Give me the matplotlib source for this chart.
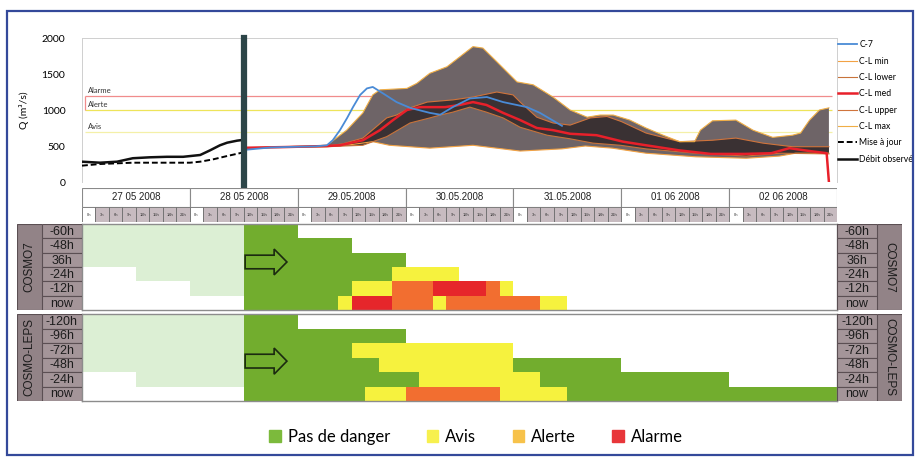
import numpy as np
import matplotlib
matplotlib.use("Agg")
import matplotlib.pyplot as plt
from matplotlib.patches import Rectangle, FancyArrow, Patch

plt.rcParams["font.family"] = ["Lato", "DejaVu Sans"]

# ---- discharge (hours since 27.05.2008 0h, m3/s) ----
OBS_H = [0, 4, 7.8, 11.3, 15.1, 18.9, 22.5, 26.3, 28.5, 30.7, 32.3, 34.5, 35.6]
OBS_Q = [282, 268, 282, 330, 343, 350, 350, 375, 440, 510, 546, 574, 583]

MAJ_H = [0, 4, 11.3, 18.9, 24, 26.3, 29.2, 32.3, 35.6]
MAJ_Q = [227, 250, 268, 268, 268, 282, 315, 361, 407]

C7_H = [36, 42, 48, 52, 54.5, 55.8, 57.4, 59, 60.3, 61.9, 63.4, 64.7, 67, 70, 73,
        77.4, 79.7, 82.5, 86.3, 90.1, 93.7, 99, 101.9, 106.8]
C7_Q = [445, 480, 490, 495, 510, 580, 720, 890, 1040, 1210, 1300, 1320, 1230, 1110, 1030,
        960, 935, 1040, 1160, 1180, 1110, 1040, 960, 780]

MED_H = [36, 45, 54.5, 57.4, 62.5, 66.3, 69.2, 72.3, 75.2, 80.8, 84, 87, 90, 93.7, 97.5,
         101.2, 104.8, 108.6, 114.5, 120.4, 125.5, 132.8, 139.9, 147.4, 153.4, 157.4,
         161.9, 165.7, 166.2]
MED_Q = [475, 485, 500, 510, 580, 720, 860, 1000, 1040, 1040, 1070, 1110, 1070, 960, 860,
         750, 720, 670, 650, 560, 510, 440, 390, 390, 400, 470, 430, 400, 0]

MAX_H = [36, 45, 50, 54.5, 58.9, 62.5, 64.7, 66.3, 72.3, 74.5, 77.4, 81.2, 87, 89.2, 92.3,
         96.8, 100.4, 104.8, 108.6, 112.4, 115.3, 118.2, 121.9, 125.5, 129.3, 133, 136.3,
         137.6, 140.3, 145.5, 149.3, 153.7, 158.1, 159.9, 161.9, 164.1, 166.2]
MAX_Q = [475, 490, 500, 510, 720, 960, 1210, 1280, 1300, 1370, 1510, 1600, 1880, 1860, 1670,
         1390, 1350, 1180, 1000, 900, 930, 930, 860, 750, 650, 560, 560,
         720, 850, 860, 720, 620, 650, 680, 860, 1000, 1030]

MIN_H = [36, 45, 54.5, 60, 64.7, 68.4, 77.4, 87, 97.5, 106.8, 112, 118, 125.5, 136.6,
         147.8, 155.2, 158.8, 166.2]
MIN_Q = [475, 480, 490, 520, 560, 510, 470, 510, 430, 460, 500, 470, 400, 350,
         330, 360, 400, 400]

UP_H = [36, 54.5, 58, 62.5, 67.8, 70, 73, 76.8, 82.5, 87, 92.3, 95.9, 97.5, 101.2, 104.8,
        108.6, 113.1, 116.8, 120, 125.5, 133, 140.3, 145.5, 151.5, 158.1, 166.2]
UP_Q = [475, 500, 530, 610, 890, 930, 1030, 1110, 1140, 1180, 1250, 1210, 1110, 900, 820,
        790, 890, 910, 840, 680, 560, 580, 610, 540, 490, 490]

LO_H = [36, 54.5, 62.5, 67.8, 73, 77.4, 79.7, 82.5, 86.3, 90, 93.7, 97.5, 103.5, 108.6,
        113.7, 119.8, 125.5, 136.6, 147.8, 155.2, 166.2]
LO_Q = [475, 490, 510, 630, 820, 890, 930, 970, 1040, 970, 890, 760, 650, 600,
        540, 510, 460, 400, 360, 400, 390]

THRESH_Q = [1200, 1000, 700]
THRESH_NAMES = ["Alarme", "Alerte", "Avis"]
NOW_H = 36

# ---- warning tables (3h slots from 27.05 0h) ----
DATES = ["27 05 2008", "28 05 2008", "29.05.2008", "30.05.2008", "31.05.2008",
         "01 06 2008", "02 06 2008"]
HOURS = ["0h", "3h", "6h", "9h", "12h", "15h", "18h", "21h"]

COSMO7_LABELS = ["-60h", "-48h", "36h", "-24h", "-12h", "now"]
COSMO7_SEGS = [
    [(0, 12, "p"), (12, 16, "g")],
    [(0, 12, "p"), (12, 20, "g")],
    [(0, 12, "p"), (12, 24, "g")],
    [(4, 12, "p"), (12, 23, "g"), (23, 28, "y")],
    [(8, 12, "p"), (12, 20, "g"), (20, 23, "y"), (23, 26, "o"), (26, 30, "r"),
     (30, 31, "o"), (31, 32, "y")],
    [(12, 19, "g"), (19, 20, "y"), (20, 23, "r"), (23, 26, "o"), (26, 27, "y"),
     (27, 34, "o"), (34, 36, "y")],
]

LEPS_LABELS = ["-120h", "-96h", "-72h", "-48h", "-24h", "now"]
LEPS_SEGS = [
    [(0, 12, "p"), (12, 16, "g")],
    [(0, 12, "p"), (12, 24, "g")],
    [(0, 12, "p"), (12, 20, "g"), (20, 32, "y")],
    [(0, 12, "p"), (12, 22, "g"), (22, 32, "y"), (32, 40, "g")],
    [(4, 12, "p"), (12, 25, "g"), (25, 34, "y"), (34, 48, "g")],
    [(12, 21, "g"), (21, 24, "y"), (24, 31, "o"), (31, 36, "y"), (36, 56, "g")],
]

LEVEL_COLORS = {"p": "#dcefd4", "g": "#72ad2e", "y": "#f6f23e", "o": "#f26e30", "r": "#e6262b"}
LEGEND_NAMES = ["Pas de danger", "Avis", "Alerte", "Alarme"]
LEGEND_COLORS = ["#7cba3c", "#f7f04e", "#f7c24a", "#e8363a"]

W, H = 916, 459
fig = plt.figure(figsize=(W / 100, H / 100), dpi=100)


def rect(x0, y0, x1, y1):
    return [x0 / W, 1 - y1 / H, (x1 - x0) / W, (y1 - y0) / H]


fig.patches.append(Rectangle((7 / W, 1 - 455 / H), 906 / W, 444 / H, transform=fig.transFigure,
                             fill=False, ec="#34499a", lw=1.6))

# ---- hydrograph ----
ax = fig.add_axes(rect(82, 38, 837, 182))
ax.set_xlim(0, 168)
ax.set_ylim(0, 2000)
ax.set_xticks([])
ax.set_yticks([0, 500, 1000, 1500, 2000])
ax.tick_params(axis="y", length=0, pad=12, labelsize=7.5)
for s in ["left", "top", "right"]:
    ax.spines[s].set_color("#cfcfcf")
    ax.spines[s].set_linewidth(0.7)
ax.spines["bottom"].set_visible(False)
ax.set_ylabel("Q (m³/s)", fontsize=7.5, labelpad=9)

thr_cols = ["#f08c8c", "#eee45a", "#f4f0a8"]
for q, name, c in zip(THRESH_Q, THRESH_NAMES, thr_cols):
    ax.hlines(q, 0.6, 166.8, color=c, lw=0.9)
    ax.text(1.3, q + 25, name, fontsize=5.5, va="bottom", color="#333333")
ax.vlines(0.6, THRESH_Q[1], THRESH_Q[0], color=thr_cols[0], lw=0.9)

ax.fill(np.r_[MAX_H, MIN_H[::-1]], np.r_[MAX_Q, MIN_Q[::-1]], fc="#6e6467", ec="none", zorder=2)
ax.fill(np.r_[UP_H, LO_H[::-1]], np.r_[UP_Q, LO_Q[::-1]], fc="#3a3133", ec="none", zorder=3)

l_c7, = ax.plot(C7_H, C7_Q, color="#4a8bd6", lw=1.3, zorder=6)
l_min, = ax.plot(MIN_H, MIN_Q, color="#f2a244", lw=0.8, zorder=4)
l_lo, = ax.plot(LO_H, LO_Q, color="#c8733a", lw=0.8, zorder=4)
l_med, = ax.plot(MED_H, MED_Q, color="#e8202a", lw=1.8, zorder=5)
l_up, = ax.plot(UP_H, UP_Q, color="#d0743c", lw=0.8, zorder=4)
l_max, = ax.plot(MAX_H, MAX_Q, color="#f0ae46", lw=0.8, zorder=4)
l_maj, = ax.plot(MAJ_H, MAJ_Q, color="black", lw=1.4, ls=(0, (3, 1.5)), zorder=5)
l_obs, = ax.plot(OBS_H, OBS_Q, color="#111111", lw=1.8, zorder=5)

ax.axvline(NOW_H, ymin=-0.045, ymax=1, color="#2c4548", lw=4.5, clip_on=False, zorder=7)

ax.legend([l_c7, l_min, l_lo, l_med, l_up, l_max, l_maj, l_obs],
          ["C-7", "C-L min", "C-L lower", "C-L med", "C-L upper", "C-L max",
           "Mise à jour", "Débit observé"],
          loc="upper left", bbox_to_anchor=(1.0, 0.99), frameon=False, fontsize=6.2,
          labelspacing=0.85, handlelength=2.2, handletextpad=0.3, borderaxespad=0,
          borderpad=0.1)

# ---- date header ----
hd = fig.add_axes(rect(82, 188, 837, 207))
hd.set_xlim(0, len(DATES))
hd.set_ylim(0, 1)
hd.axis("off")
hd.bar(np.arange(len(DATES)), 1, width=1, align="edge", color="white", ec="#8a8a8a", lw=0.8)
for i, d in enumerate(DATES):
    hd.text(i + 0.5, 0.5, d, ha="center", va="center", fontsize=7,
            family="Liberation Sans", color="#222222")

n_slots = len(DATES) * len(HOURS)
hr = fig.add_axes(rect(82, 207, 837, 222))
hr.set_xlim(0, n_slots)
hr.set_ylim(0, 1)
hr.axis("off")
slot_cols = ["white" if k % len(HOURS) == 0 else "#c7bbc0" for k in range(n_slots)]
hr.bar(np.arange(n_slots), 1, width=1, align="edge", color=slot_cols, ec="#6d6d6d", lw=0.6)
for k in range(n_slots):
    hr.text(k + 0.5, 0.5, HOURS[k % len(HOURS)], ha="center", va="center", fontsize=3,
            family="Liberation Sans", color="#333333")


# ---- warning panels ----
def panel(y0, y1, labels, model, segs, arrow_y):
    body = fig.add_axes(rect(82, y0, 837, y1))
    body.set_xlim(0, n_slots)
    body.set_ylim(len(labels), 0)
    body.set_xticks([])
    body.set_yticks([])
    for sp in body.spines.values():
        sp.set_color("#8c8c8c")
        sp.set_linewidth(1.0)
    for i, row in enumerate(segs):
        for a, b, lvl in row:
            body.barh(i + 0.5, b - a, left=a, height=1.0, color=LEVEL_COLORS[lvl], lw=0)
    body.add_patch(FancyArrow(12.1, arrow_y, 3.1, 0, width=0.95, head_width=1.8, head_length=0.95,
                              length_includes_head=True, fc="none", ec="#1b2a10", lw=1.2))

    for xa, xb in [(42, 82), (837, 877)]:
        la = fig.add_axes(rect(xa, y0, xb, y1))
        la.set_xlim(0, 1)
        la.set_ylim(len(labels), 0)
        la.axis("off")
        la.barh(np.arange(len(labels)) + 0.5, 1, height=1, color="#a49599", ec="#5b4f53", lw=0.8)
        for i, t in enumerate(labels):
            la.text(0.5, i + 0.55, t, ha="center", va="center", fontsize=9,
                    family="Liberation Sans", color="#1c1c1c")
    for (xa, xb), rot in [((17, 42), 90), ((877, 902), -90)]:
        lm = fig.add_axes(rect(xa, y0, xb, y1))
        lm.set_xlim(0, 1)
        lm.set_ylim(0, 1)
        lm.axis("off")
        lm.bar(0, 1, width=1, align="edge", color="#928387", ec="#5b4f53", lw=0.8)
        lm.text(0.5, 0.5, model, rotation=rot, ha="center", va="center", fontsize=8.5,
                family="Liberation Sans", color="#1c1c1c")


panel(224, 310, COSMO7_LABELS, "COSMO7", COSMO7_SEGS, 2.65)
panel(314, 401, LEPS_LABELS, "COSMO-LEPS", LEPS_SEGS, 3.25)

# ---- bottom legend ----
handles = [Patch(color=c) for c in LEGEND_COLORS]
fig.legend(handles, LEGEND_NAMES, loc="center", bbox_to_anchor=(476 / W, 1 - 437 / H), ncol=4,
           frameon=False, fontsize=12, handlelength=0.7, handleheight=0.7, handletextpad=0.4,
           columnspacing=2.2)

fig.savefig("out.png", dpi=100)
